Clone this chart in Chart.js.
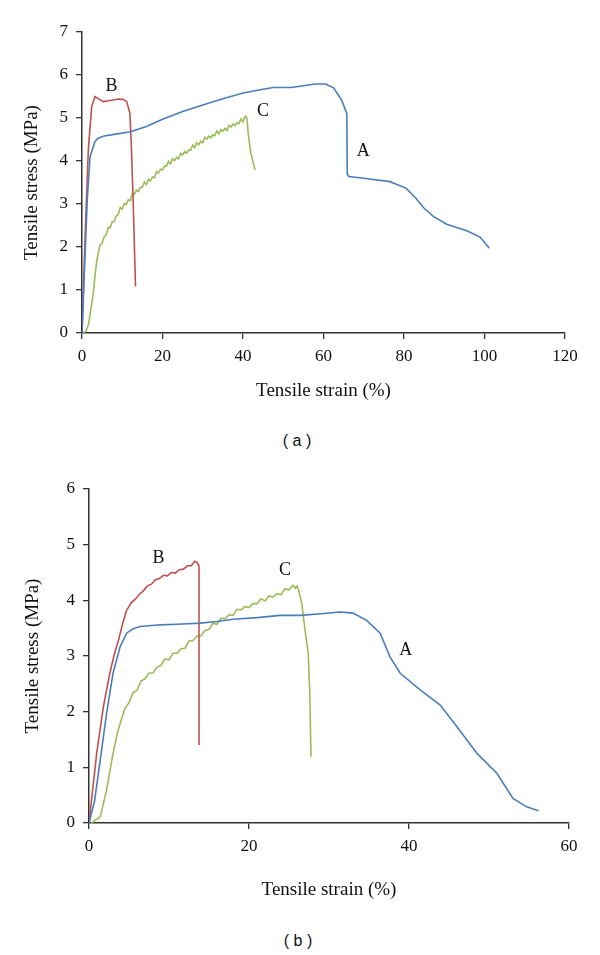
<!DOCTYPE html>
<html>
<head>
<meta charset="utf-8">
<script src="https://cdn.jsdelivr.net/npm/chart.js@4.4.1/dist/chart.umd.min.js"></script>
<style>
  body { margin: 0; background: #fff; width: 600px; height: 955px; position: relative; overflow: hidden; }
  canvas { position: absolute; left: 0; }
  .cap { position: absolute; width: 600px; left: 0; text-align: center; font: 16px "Liberation Sans", Arial, sans-serif; color: #111; }
</style>
</head>
<body>
<canvas id="chartA" width="600" height="420" style="top:0"></canvas>
<div class="cap" style="top:432px; left:-3px">( a )</div>
<canvas id="chartB" width="600" height="455" style="top:460px"></canvas>
<div class="cap" style="top:932px; left:-2px">( b )</div>
<script>
// ---- panel (a) data: [strain %, stress MPa]
const a_A = [[0,0],[0.5,1.2],[1.3,3.09],[2,4.1],[3.2,4.45],[4,4.53],[5.5,4.58],[8,4.62],[12,4.68],[16,4.8],[20,4.97],[25,5.15],[30,5.3],[35,5.45],[40,5.58],[45,5.67],[47.5,5.71],[52,5.71],[55,5.75],[58,5.79],[60.5,5.79],[62.5,5.7],[64.5,5.42],[65.8,5.1],[65.9,3.7],[66.3,3.64],[70,3.6],[76.5,3.52],[80.5,3.37],[83,3.13],[85,2.9],[87.3,2.71],[90.6,2.53],[95.6,2.38],[98.9,2.23],[101.2,1.97]];
const a_B = [[0,0],[0.8,2.3],[1.57,4.26],[2.4,5.26],[3.2,5.5],[4.2,5.44],[5.3,5.38],[6.5,5.4],[7.8,5.42],[9,5.44],[10.3,5.43],[11.1,5.38],[11.9,5.11],[12.3,4.26],[12.7,3.09],[13.3,1.08]];
const a_C = [[0.4,0],[1,0.05],[1.6,0.19],[2.2,0.55],[2.8,0.92],[3.2,1.3],[3.6,1.62],[4,1.85],[4.5,2.05],[5,2.09],[5.5,2.24],[6,2.28],[6.5,2.45],[7,2.45],[7.5,2.58],[8,2.59],[8.5,2.72],[9,2.76],[9.5,2.92],[10,2.88],[10.5,3.01],[11,2.99],[11.5,3.1],[12,3.08],[12.5,3.24],[13,3.22],[13.5,3.32],[14,3.29],[14.5,3.39],[15,3.39],[15.5,3.51],[16,3.45],[16.5,3.57],[17,3.54],[17.5,3.63],[18,3.61],[18.5,3.75],[19,3.72],[19.5,3.81],[20,3.79],[20.5,3.88],[21,3.88],[21.5,3.99],[22,3.93],[22.5,4.05],[23,4.01],[23.5,4.09],[24,4.05],[24.5,4.18],[25,4.14],[25.5,4.22],[26,4.18],[26.5,4.26],[27,4.25],[27.5,4.37],[28,4.31],[28.5,4.42],[29,4.38],[29.5,4.46],[30,4.42],[30.5,4.55],[31,4.51],[31.5,4.58],[32,4.54],[32.5,4.61],[33,4.59],[33.5,4.7],[34,4.63],[34.5,4.73],[35,4.69],[35.5,4.76],[36,4.71],[36.5,4.83],[37,4.79],[37.5,4.86],[38,4.82],[38.5,4.89],[39,4.87],[39.5,4.98],[40,4.91],[40.3,5.0],[40.7,5.04],[41,4.97],[41.3,4.64],[41.9,4.2],[43,3.79]];
const a_labels = ['A', 'B', 'C'];
const a_labelAt = [[69.9, 4.22], [7.3, 5.73], [45, 5.15]];

// ---- panel (b) data
const b_A = [[0,0],[0.7,0.4],[1.4,1.13],[2.2,1.97],[3,2.69],[3.9,3.17],[4.7,3.41],[5.5,3.49],[6.4,3.53],[8.9,3.56],[11,3.57],[13.9,3.59],[16,3.62],[18,3.66],[21,3.69],[23.9,3.73],[26.4,3.73],[29,3.76],[31.4,3.79],[33,3.77],[34.7,3.64],[36.4,3.41],[37.6,2.99],[38.9,2.69],[41.4,2.39],[43.9,2.12],[46,1.73],[48.5,1.25],[51,0.89],[53,0.44],[54.7,0.29],[56.2,0.22]];
const b_B = [[0,0],[0.96,1.25],[1.8,2.09],[2.6,2.69],[3.2,3.05],[3.7,3.29],[4.2,3.58],[4.7,3.82],[5.3,3.96],[5.8,4.02],[6.3,4.11],[6.8,4.17],[7.3,4.26],[7.8,4.29],[8.3,4.37],[8.8,4.39],[9.3,4.45],[9.8,4.44],[10.3,4.5],[10.8,4.49],[11.3,4.55],[11.8,4.56],[12.3,4.62],[12.8,4.62],[13.2,4.7],[13.5,4.68],[13.75,4.62],[13.75,1.4]];
const b_C = [[0.3,0],[1.4,0.11],[2.2,0.59],[3,1.25],[3.6,1.65],[4.3,1.97],[4.5,2.06],[5,2.16],[5.5,2.34],[6,2.38],[6.5,2.55],[7,2.59],[7.5,2.69],[8,2.7],[8.5,2.8],[9,2.83],[9.5,2.95],[10,2.93],[10.5,3.05],[11,3.05],[11.5,3.13],[12,3.14],[12.5,3.27],[13,3.28],[13.5,3.36],[14,3.36],[14.5,3.46],[15,3.48],[15.5,3.59],[16,3.57],[16.5,3.68],[17,3.67],[17.5,3.74],[18,3.73],[18.5,3.84],[19,3.83],[19.5,3.89],[20,3.87],[20.5,3.94],[21,3.94],[21.5,4.03],[22,3.99],[22.5,4.08],[23,4.06],[23.5,4.12],[24,4.1],[24.5,4.21],[25,4.19],[25.5,4.27],[25.8,4.22],[26,4.26],[26.2,4.18],[26.6,3.94],[27,3.47],[27.4,3.05],[27.6,2.33],[27.75,1.19]];
const b_labels = ['A', 'B', 'C'];
const b_labelAt = [[39.6, 3.11], [8.7, 4.75], [24.5, 4.54]];

const BLUE = '#4a7ebb', RED = '#c0504d', GREEN = '#9bbb59';
const SERIF = '"Liberation Serif", "Times New Roman", serif';
const AXIS = '#333';

const pts = arr => arr.map(p => ({x: p[0], y: p[1]}));

// draws the A/B/C curve names at data coordinates
const curveNames = {
  id: 'curveNames',
  afterDatasetsDraw(chart, args, opts) {
    const {ctx, scales: {x, y}} = chart;
    ctx.save();
    ctx.font = '18px ' + SERIF;
    ctx.fillStyle = '#111';
    ctx.textAlign = 'center';
    ctx.textBaseline = 'middle';
    opts.names.forEach((t, i) => {
      ctx.fillText(t, x.getPixelForValue(opts.at[i][0]), y.getPixelForValue(opts.at[i][1]));
    });
    ctx.restore();
  }
};

function makeChart(id, series, names, at, xMax, yMax, box) {
  const ds = series.map((s, i) => ({
    data: pts(s),
    borderColor: [BLUE, RED, GREEN][i],
    borderWidth: 1.6,
    showLine: true,
    pointRadius: 0,
    tension: 0
  }));
  return new Chart(document.getElementById(id), {
    type: 'scatter',
    data: {datasets: ds},
    options: {
      responsive: false,
      animation: false,
      layout: {padding: {left: 0, right: box.right, top: box.top, bottom: 0}},
      plugins: {
        legend: {display: false},
        tooltip: {enabled: false},
        curveNames: {names: names, at: at}
      },
      scales: {
        x: {
          type: 'linear', min: 0, max: xMax,
          afterFit: s => { s.height = box.xh; },
          ticks: {stepSize: 20, padding: 7, color: '#111', font: {family: SERIF, size: 17}},
          grid: {drawOnChartArea: false, drawTicks: true, tickLength: 6, color: AXIS, lineWidth: 1.3},
          border: {display: true, color: AXIS, width: 1.5},
          title: {display: true, text: 'Tensile strain (%)', color: '#111',
                  font: {family: SERIF, size: 19}, padding: {top: 0, bottom: box.xtp}}
        },
        y: {
          min: 0, max: yMax,
          afterFit: s => { s.width = box.yw; },
          ticks: {stepSize: 1, padding: 8, color: '#111', font: {family: SERIF, size: 17}},
          grid: {drawOnChartArea: false, drawTicks: true, tickLength: 6, color: AXIS, lineWidth: 1.3},
          border: {display: true, color: AXIS, width: 1.5},
          title: {display: true, text: 'Tensile stress (MPa)', color: '#111',
                  font: {family: SERIF, size: 19}, padding: {top: box.ytp, bottom: 0}}
        }
      }
    },
    plugins: [curveNames]
  });
}

makeChart('chartA', [a_A, a_B, a_C], a_labels, a_labelAt, 120, 7,
  {right: 35, top: 32, xh: 87, xtp: 18, yw: 82, ytp: 21});
makeChart('chartB', [b_A, b_B, b_C], b_labels, b_labelAt, 60, 6,
  {right: 31, top: 29, xh: 92, xtp: 14, yw: 89, ytp: 22});
</script>
</body>
</html>
